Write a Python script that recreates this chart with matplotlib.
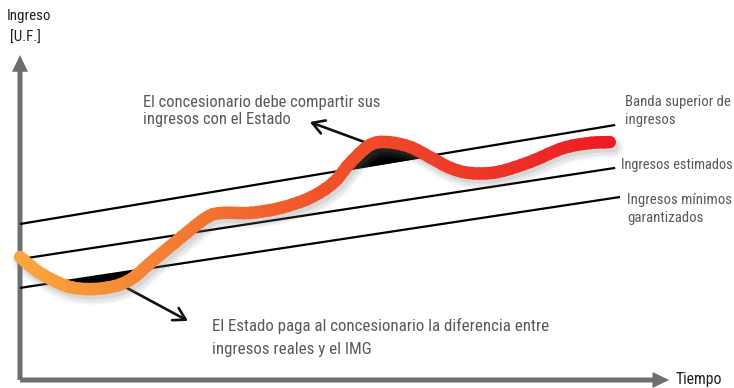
"""Esquema de ingresos mínimos garantizados y banda superior de ingresos."""
import matplotlib
matplotlib.use("Agg")
import matplotlib.pyplot as plt
import numpy as np
from matplotlib import font_manager, transforms
from matplotlib.colors import LinearSegmentedColormap
from matplotlib.patches import FancyArrowPatch, ArrowStyle, PathPatch, Rectangle
from matplotlib.path import Path

tiempo = [0, 3.3, 7.8, 11.7, 15.8, 18.8, 21.7, 26.7, 31.2, 33.8, 38.3, 43.3,
          48.3, 52.2, 55.0, 58.3, 61.2, 65.0, 68.3, 71.7, 75.0, 79.5, 85.0,
          90.5, 95.0, 98.3]
ingreso_real = [41.0, 35.7, 31.3, 30.3, 31.3, 34.0, 39.0, 47.3, 54.3, 55.7,
                55.7, 57.3, 60.7, 65.7, 72.3, 78.3, 79.3, 77.7, 74.3, 70.7,
                69.0, 69.3, 72.7, 77.3, 79.0, 79.3]

# rectas de referencia (inicio y fin)
banda_t = [0, 99.5]
banda_superior = [52.0, 85.0]
ingreso_estimado = [40.3, 70.7]
ingreso_minimo = [30.7, 61.0]

GRIS_EJE = "#6d6e71"
GRIS_TXT = "#58595b"

_disp = {f.name for f in font_manager.fontManager.ttflist}
FONT = next((n for n in ["Liberation Sans Narrow", "Roboto Condensed",
                          "Archivo Narrow", "Liberation Sans"] if n in _disp),
            "DejaVu Sans")

W, H = 734, 388


def fx(x, y):
    """pixel de la imagen -> fracción de figura"""
    return x / W, 1 - y / H


def curva_suave(xs, ys):
    """Path de Bézier cúbico que pasa por los puntos (Catmull-Rom)."""
    p = np.column_stack([xs, ys])
    p_ext = np.vstack([p[0], p, p[-1]])
    verts = [p[0]]
    codes = [Path.MOVETO]
    for i in range(len(p) - 1):
        p0, p1, p2, p3 = p_ext[i], p_ext[i + 1], p_ext[i + 2], p_ext[i + 3]
        verts += [p1 + (p2 - p0) / 6, p2 - (p3 - p1) / 6, p2]
        codes += [Path.CURVE4] * 3
    return Path(verts, codes)


fig = plt.figure(figsize=(W / 100, H / 100), dpi=100)
ax = fig.add_axes([0, 0, 1, 1])
ax.set_xlim(-20 / 6, (W - 20) / 6)
ax.set_ylim(-(H - 380) / 3, 380 / 3)
ax.axis("off")

# ejes con flecha
for xy_end in [(0, 108.3), (108.2, 0)]:
    ax.add_patch(FancyArrowPatch(
        (0, 0), xy_end,
        arrowstyle=ArrowStyle.Simple(head_length=12, head_width=11.5, tail_width=3.6),
        mutation_scale=1, color=GRIS_EJE, lw=0, shrinkA=0, shrinkB=0, zorder=1))

# rectas
for vals, t_end in [(banda_superior, 99.2), (ingreso_estimado, 99.2), (ingreso_minimo, 100)]:
    ax.plot([banda_t[0], t_end], vals, color="black", lw=1.6, zorder=2,
            solid_capstyle="butt")

t = np.array(tiempo)
y = np.array(ingreso_real)
sup = np.interp(t, banda_t, banda_superior)
inf = np.interp(t, banda_t, ingreso_minimo)
ax.fill_between(t, y, sup, where=y > sup, interpolate=True, color="black", lw=0, zorder=2)
ax.fill_between(t, y, inf, where=y < inf, interpolate=True, color="black", lw=0, zorder=2)

# flechas de anotación
for a, b in [((59.2, 78.0), (48.3, 86.0)), ((17.8, 30.7), (28.0, 19.7))]:
    ax.annotate("", xy=b, xytext=a,
                arrowprops=dict(arrowstyle="->,head_length=8.5,head_width=5",
                                mutation_scale=1, lw=1.9, color="#111111",
                                shrinkA=0, shrinkB=0), zorder=2)

path = curva_suave(t, y)

# sombra difusa
for dx, dy, lw, al in [(3, -5, 15, 0.08), (3, -5, 12, 0.10), (2.5, -4, 9, 0.14)]:
    tr = transforms.offset_copy(ax.transData, fig=fig, x=dx, y=dy, units="dots")
    ax.add_patch(PathPatch(path, fill=False, edgecolor="#7a7a7a", lw=lw,
                           alpha=al, transform=tr, capstyle="round", zorder=3))

# curva con degradado: franjas verticales del mismo trazo
cmap = LinearSegmentedColormap.from_list(
    "ing", ["#f9a63e", "#f47d33", "#f0542b", "#ee3a27", "#ec1c24"])
n = 90
bordes = np.linspace(t.min(), t.max(), n + 1)
for i in range(n):
    x0 = bordes[i] - (5 if i == 0 else 0)
    x1 = bordes[i + 1] + (5 if i == n - 1 else 0.25)
    pp = PathPatch(path, fill=False, edgecolor=cmap(i / (n - 1)), lw=9,
                   capstyle="round", joinstyle="round", zorder=4)
    ax.add_patch(pp)
    clip = Rectangle((x0, -10), x1 - x0, 150, transform=ax.transData)
    pp.set_clip_path(clip)

# textos
txt = dict(family=FONT, color=GRIS_TXT, va="top", ha="left")
fig.text(*fx(7, 9), "Ingreso", fontsize=10.8, color="#231f20", family=FONT, va="top")
fig.text(*fx(10, 31), "[U.F.]", fontsize=10.8, color="#231f20", family=FONT, va="top")
fig.text(*fx(676, 372), "Tiempo", fontsize=11.3, color="#231f20", family=FONT, va="top")
fig.text(*fx(143, 95), "El concesionario debe compartir sus\ningresos con el Estado",
         fontsize=11.9, linespacing=1.2, **txt)
fig.text(*fx(212, 318), "El Estado paga al concesionario la diferencia entre\ningresos reales y el IMG",
         fontsize=12.2, linespacing=1.65, **txt)
fig.text(*fx(625, 95), "Banda superior de\ningresos", fontsize=10.6, linespacing=1.35, **txt)
fig.text(*fx(621, 158), "Ingresos estimados", fontsize=10.4, **txt)
fig.text(*fx(627, 193), "Ingresos mínimos\ngarantizados", fontsize=10.6, linespacing=1.35, **txt)

fig.savefig("out.png", dpi=100)
